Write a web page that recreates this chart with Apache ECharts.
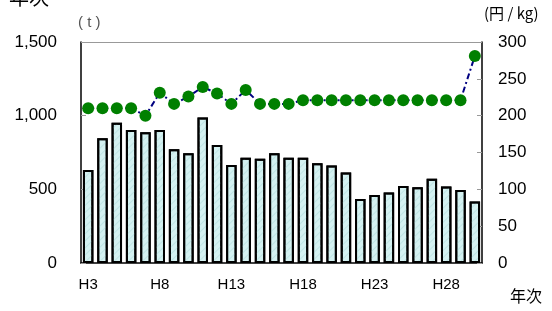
<!DOCTYPE html>
<html>
<head>
<meta charset="utf-8">
<script src="https://cdn.jsdelivr.net/npm/echarts@6/dist/echarts.min.js"></script>
<style>
  html, body { margin: 0; padding: 0; background: #fff; }
  #chart { width: 552px; height: 311px; }
</style>
</head>
<body>
<div id="chart"></div>
<script>
// 年次データ
const years = ["H3", "H4", "H5", "H6", "H7", "H8", "H9", "H10", "H11", "H12",
  "H13", "H14", "H15", "H16", "H17", "H18", "H19", "H20", "H21", "H22",
  "H23", "H24", "H25", "H26", "H27", "H28", "H29", "H30"];
const volume = [632, 846, 952, 902, 887, 902, 772, 745, 988, 801,
  666, 715, 708, 745, 715, 715, 677, 661, 614, 435,
  462, 478, 523, 514, 571, 519, 496, 417];
const price = [210, 210, 210, 210, 200, 231, 216, 226, 239, 230,
  216, 235, 216, 216, 216, 221, 221, 221, 221, 221,
  221, 221, 221, 221, 221, 221, 221, 281];
const leftTicks = [0, 500, 1000, 1500];
const rightTicks = [0, 50, 100, 150, 200, 250, 300];

const font = "Liberation Sans, Arial, sans-serif";
const chart = echarts.init(document.getElementById("chart"));

chart.setOption({
  animation: false,
  title: {
    text: "年次",
    left: 4,
    top: -18,
    textStyle: { fontSize: 20, fontWeight: "normal", color: "#000", fontFamily: "Noto Sans CJK JP" },
  },
  grid: { left: 81, right: 70, top: 42, bottom: 48 },
  graphic: [
    { type: "text", left: 78, top: 15, style: { text: "( t )", fontSize: 15, fill: "#555", fontFamily: font } },
    { type: "text", left: 484, top: 6, style: { text: "(円 / kg)", fontSize: 15, fill: "#000", fontFamily: "Noto Sans CJK JP" } },
    { type: "text", left: 510, top: 288, style: { text: "年次", fontSize: 16, fill: "#000", fontFamily: "Noto Sans CJK JP" } },
    // top border of the plot area
    { type: "line", shape: { x1: 81, y1: 42.5, x2: 482, y2: 42.5 }, style: { stroke: "#999", lineWidth: 1 } },
  ],
  xAxis: {
    type: "category",
    data: years,
    axisLine: { lineStyle: { color: "#000", width: 1.5 } },
    axisTick: { show: false },
    axisLabel: {
      interval: 4,
      color: "#000",
      fontSize: 15,
      fontFamily: font,
      margin: 14,
    },
  },
  yAxis: [
    {
      type: "value",
      min: leftTicks[0],
      max: leftTicks[leftTicks.length - 1],
      interval: 500,
      splitLine: { show: false },
      axisLine: { show: true, lineStyle: { color: "#000", width: 1.5 } },
      axisTick: { show: true, inside: true, length: 5, lineStyle: { color: "#999" } },
      axisLabel: {
        color: "#000",
        fontSize: 17,
        fontFamily: font,
        margin: 24,
        formatter: (v) => v.toLocaleString("en-US"),
      },
    },
    {
      type: "value",
      min: rightTicks[0],
      max: rightTicks[rightTicks.length - 1],
      interval: 50,
      splitLine: { show: false },
      axisLine: { show: true, lineStyle: { color: "#000", width: 1.5 } },
      axisTick: { show: true, inside: true, length: 5, lineStyle: { color: "#999" } },
      axisLabel: { color: "#000", fontSize: 17, fontFamily: font, margin: 16 },
    },
  ],
  series: [
    {
      name: "数量",
      type: "bar",
      data: volume,
      barCategoryGap: "27%",
      itemStyle: {
        color: "#d4f1f1",
        borderColor: "#000",
        borderWidth: 2,
        decal: {
          symbol: "rect",
          color: "rgba(170,215,215,0.5)",
          dashArrayX: [1, 0],
          dashArrayY: [1, 4],
          rotation: -Math.PI / 4,
        },
      },
    },
    {
      name: "価格",
      type: "line",
      yAxisIndex: 1,
      data: price,
      symbol: "circle",
      symbolSize: 12,
      showAllSymbol: true,
      z: 5,
      lineStyle: { color: "#000080", width: 2, type: [6, 3, 2, 3] },
      itemStyle: { color: "#008000", borderWidth: 0 },
    },
  ],
});
</script>
</body>
</html>
